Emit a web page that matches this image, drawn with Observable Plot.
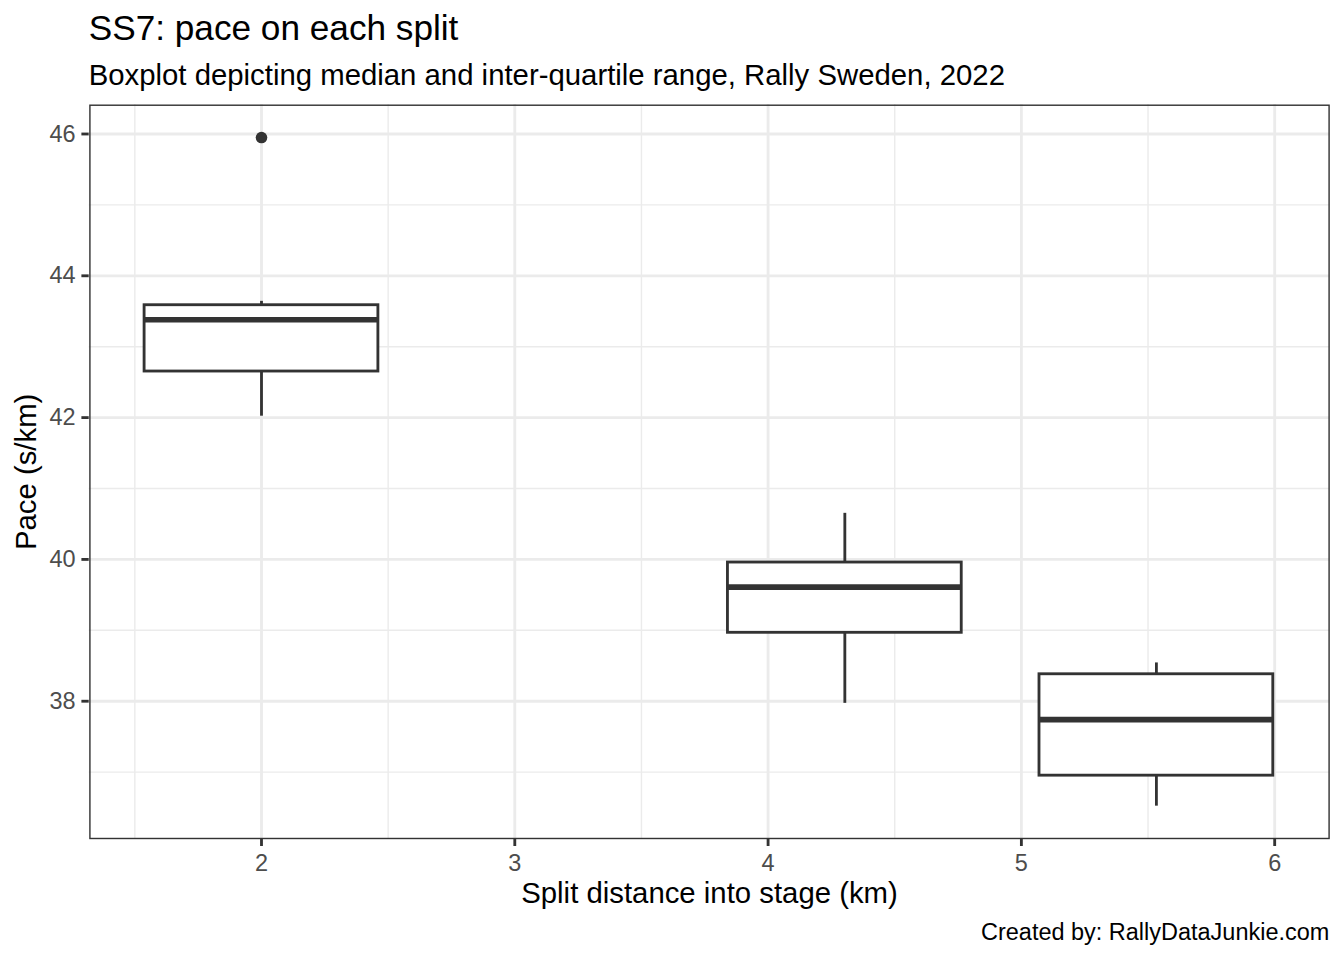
<!DOCTYPE html>
<html>
<head>
<meta charset="utf-8">
<script src="https://cdn.jsdelivr.net/npm/d3@7"></script>
<script src="https://cdn.jsdelivr.net/npm/@observablehq/plot@0.6"></script>
<style>
  html, body { margin: 0; padding: 0; background: #ffffff; }
  #page { position: relative; width: 1344px; height: 960px; overflow: hidden;
          font-family: "Liberation Sans", Arial, Helvetica, sans-serif; color: #000; background: #fff; }
  .t { position: absolute; white-space: nowrap; line-height: 1; }
  #title { left: 88.7px; top: 9.7px; font-size: 35.2px; }
  #subtitle { left: 88.7px; top: 60.2px; font-size: 29.33px; }
  #caption { right: 14.7px; top: 921.1px; font-size: 23.47px; }
  #chart { position: absolute; left: 0; top: 96px; }
</style>
</head>
<body>
<div id="page">
  <div id="title" class="t">SS7: pace on each split</div>
  <div id="subtitle" class="t">Boxplot depicting median and inter-quartile range, Rally Sweden, 2022</div>
  <div id="chart"></div>
  <div id="caption" class="t">Created by: RallyDataJunkie.com</div>
</div>
<script>
// ---- data ----
const splitKm     = [2, 4.303, 5.533];        // split distance (box centres)
const whiskerLow  = [42.02, 37.97, 36.52];
const quartile1   = [42.65, 38.965, 36.95];
const medianPace  = [43.38, 39.61, 37.74];
const quartile3   = [43.585, 39.956, 38.38];
const whiskerHigh = [43.64, 40.65, 38.54];
const outlierSplit = [2];
const outlierPace  = [45.95];
const xTicks = [2, 3, 4, 5, 6];
const yTicks = [38, 40, 42, 44, 46];
const xMinor = [1.5, 2.5, 3.5, 4.5, 5.5];
const yMinor = [37, 39, 41, 43, 45];
const xTitle = "Split distance into stage (km)";
const yTitle = "Pace (s/km)";

// ---- build tables ----
const BOX_W = 0.923;
const boxes = splitKm.map((x, i) => ({
  x, lo: whiskerLow[i], q1: quartile1[i], med: medianPace[i], q3: quartile3[i], hi: whiskerHigh[i]
}));
const outliers = outlierSplit.map((x, i) => ({x, y: outlierPace[i]}));

const FONT = '"Liberation Sans", Arial, Helvetica, sans-serif';
const DARK = "#333333";
const GRID = "#EBEBEB";
const W = 1344, H = 820, ML = 88.7, MR = 14.7, MT = 8, MB = H - MT - 734.7;
const fmt = d => String(d);

const chart = Plot.plot({
  width: W, height: H,
  marginLeft: ML, marginRight: MR, marginTop: MT, marginBottom: MB,
  style: {fontFamily: FONT, background: "white", overflow: "visible", color: "black"},
  x: {type: "linear", domain: [1.3198, 6.2176]},
  y: {type: "linear", domain: [36.054, 46.416]},
  marks: [
    Plot.gridX(xMinor, {stroke: GRID, strokeOpacity: 1, strokeWidth: 1.42}),
    Plot.gridY(yMinor, {stroke: GRID, strokeOpacity: 1, strokeWidth: 1.42}),
    Plot.gridX(xTicks, {stroke: GRID, strokeOpacity: 1, strokeWidth: 2.84}),
    Plot.gridY(yTicks, {stroke: GRID, strokeOpacity: 1, strokeWidth: 2.84}),
    Plot.ruleX(boxes, {x: "x", y1: "q3", y2: "hi", stroke: DARK, strokeWidth: 2.84}),
    Plot.ruleX(boxes, {x: "x", y1: "lo", y2: "q1", stroke: DARK, strokeWidth: 2.84}),
    Plot.rect(boxes, {x1: d => d.x - BOX_W / 2, x2: d => d.x + BOX_W / 2, y1: "q1", y2: "q3",
                      fill: "white", stroke: DARK, strokeWidth: 2.84}),
    Plot.ruleY(boxes, {y: "med", x1: d => d.x - BOX_W / 2, x2: d => d.x + BOX_W / 2,
                       stroke: DARK, strokeWidth: 5.69}),
    Plot.dot(outliers, {x: "x", y: "y", r: 5.8, fill: DARK}),
    Plot.frame({stroke: DARK, strokeWidth: 1.42, inset: 0.71}),
    Plot.axisX(xTicks, {tickSize: 7.3, tickPadding: 7.4, fontSize: 23.47, fill: "#4D4D4D",
                        stroke: DARK, strokeWidth: 2.84, label: null, tickFormat: fmt}),
    Plot.axisY(yTicks, {tickSize: 7.3, tickPadding: 6.4, fontSize: 23.47, fill: "#4D4D4D",
                        stroke: DARK, strokeWidth: 2.84, label: null, tickFormat: fmt}),
    Plot.text([xTitle], {text: d => d, frameAnchor: "bottom", dy: 63.3, lineAnchor: "bottom",
                         fontSize: 29.33, fill: "black"}),
    Plot.text([yTitle], {text: d => d, frameAnchor: "left", rotate: -90, dx: -52.7,
                         lineAnchor: "bottom", textAnchor: "middle", fontSize: 29.33, fill: "black"})
  ]
});
document.getElementById("chart").appendChild(chart);
</script>
</body>
</html>
